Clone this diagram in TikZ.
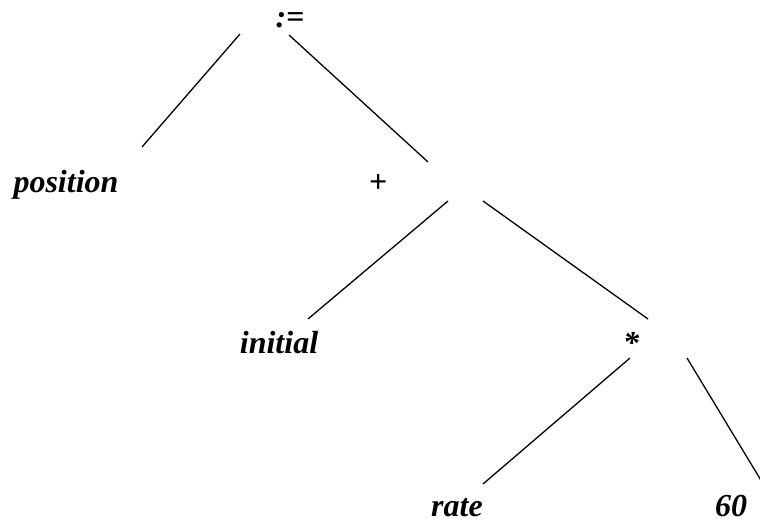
\documentclass[tikz,border=0pt]{standalone}
\usepackage{fontspec}
\setmainfont{Liberation Serif}
\tikzset{
  label/.style={anchor=base, inner sep=0pt, font=\fontsize{32}{38}\selectfont\bfseries\itshape},
  edge/.style={line width=1.3pt}
}
\begin{document}
\begin{tikzpicture}[x=1pt, y=-1pt]
    \useasboundingbox (0,0) rectangle (760,521);
    % operators
    \node[label] (assign) at (290,28) {:=};
    \node[label] (plus) at (378,193) {+};
    \node[label] (times) at (631,353) {*};
    % leaves
    \node[label] (position) at (66,193) {position};
    \node[label] (initial) at (279,353) {initial};
    \node[label] (rate) at (457,516) {rate};
    \node[label] (sixty) at (731,516) {60};
    % line ends
    \coordinate (assign-l) at (240,34);
    \coordinate (assign-r) at (289,35);
    \coordinate (position-t) at (142,147);
    \coordinate (plus-t) at (428,162);
    \coordinate (plus-l) at (448,201);
    \coordinate (plus-r) at (483,201);
    \coordinate (initial-t) at (308,319);
    \coordinate (times-t) at (648,319);
    \coordinate (times-l) at (630,358);
    \coordinate (times-r) at (687,358);
    \coordinate (rate-t) at (483,484);
    \coordinate (sixty-t) at (762,482);
    % tree
    \draw[edge] (assign-l)--(position-t);
    \draw[edge] (assign-r)--(plus-t);
    \draw[edge] (plus-l)--(initial-t);
    \draw[edge] (plus-r)--(times-t);
    \draw[edge] (times-l)--(rate-t);
    \draw[edge] (times-r)--(sixty-t);
\end{tikzpicture}
\end{document}
